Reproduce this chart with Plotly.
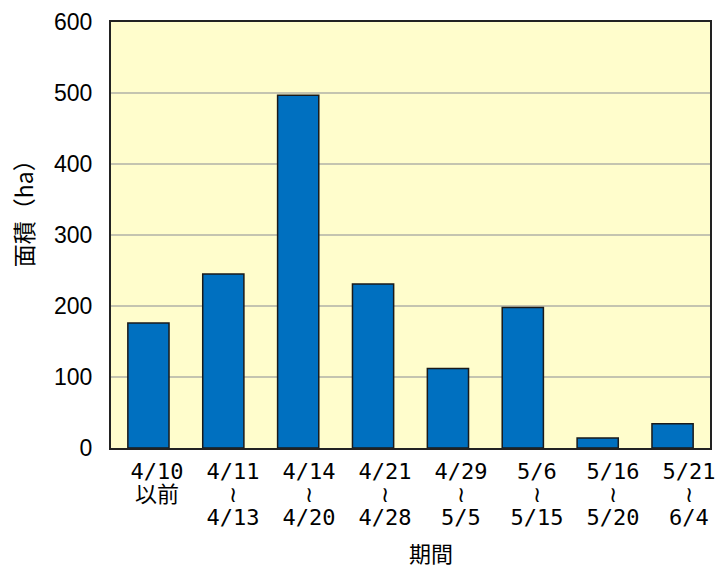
import plotly.graph_objects as go

periods = [
    "4/10<br>以前",
    "4/11<br>≀<br>4/13",
    "4/14<br>≀<br>4/20",
    "4/21<br>≀<br>4/28",
    "4/29<br>≀<br>5/5",
    "5/6<br>≀<br>5/15",
    "5/16<br>≀<br>5/20",
    "5/21<br>≀<br>6/4",
]
areas = [176, 245, 497, 231, 112, 198, 14, 34]
y_ticks = [0, 100, 200, 300, 400, 500, 600]

jp_font = "Noto Sans CJK JP"
label_font = "DejaVu Sans Mono, Noto Sans CJK JP"

# larger glyphs while keeping the tighter line pitch of an 18px label
span_open = '<span style="font-size:22px">'
tick_text = [span_open + p.replace("<br>", "</span><br>" + span_open) + "</span>" for p in periods]
label_pos = list(range(len(periods)))

fig = go.Figure()
fig.add_trace(
    go.Bar(
        x=periods,
        y=areas,
        width=0.55,
        marker=dict(color="#0070C0", line=dict(color="#1a1a1a", width=1.5)),
    )
)
# invisible companion trace so the label axis is drawn
fig.add_trace(
    go.Scatter(
        x=label_pos,
        y=areas,
        xaxis="x2",
        mode="markers",
        marker=dict(opacity=0),
        hoverinfo="skip",
    )
)

fig.update_layout(
    width=719,
    height=569,
    margin=dict(l=111, r=9, t=22, b=121, autoexpand=False),
    paper_bgcolor="white",
    plot_bgcolor="#FFFDCC",
    showlegend=False,
    bargap=0.45,
    xaxis=dict(
        showline=True,
        linecolor="#222222",
        linewidth=2,
        mirror=True,
        ticks="",
        showticklabels=False,
        automargin=False,
    ),
    # period labels sit on their own axis, spaced a little wider than the bars
    xaxis2=dict(
        overlaying="x",
        side="bottom",
        anchor="y",
        range=[-0.605, 7.277],
        tickvals=label_pos,
        ticktext=tick_text,
        showline=False,
        showgrid=False,
        zeroline=False,
        ticks="outside",
        ticklen=8,
        tickcolor="rgba(0,0,0,0)",
        tickfont=dict(family=label_font, size=18, color="black"),
        automargin=False,
    ),
    annotations=[
        dict(
            text="面積（ha）",
            textangle=-90,
            xref="paper", yref="paper",
            x=-0.147, y=0.565,
            xanchor="center", yanchor="middle",
            showarrow=False,
            font=dict(family=jp_font, size=23, color="black"),
        ),
        dict(
            text="期間",
            xref="paper", yref="paper",
            x=0.535, y=-0.243,
            xanchor="center", yanchor="middle",
            showarrow=False,
            font=dict(family=jp_font, size=22, color="black"),
        ),
    ],
)

fig.update_yaxes(
    range=[0, 600],
    tickvals=y_ticks,
    showline=True,
    linecolor="#222222",
    linewidth=2,
    mirror=True,
    showgrid=True,
    gridcolor="#C4C4B0",
    gridwidth=1.5,
    zeroline=False,
    ticks="outside",
    ticklen=12,
    tickcolor="rgba(0,0,0,0)",
    tickfont=dict(family="Liberation Sans, Arial", size=23, color="black"),
    automargin=False,
)

fig.write_html("out.html")
